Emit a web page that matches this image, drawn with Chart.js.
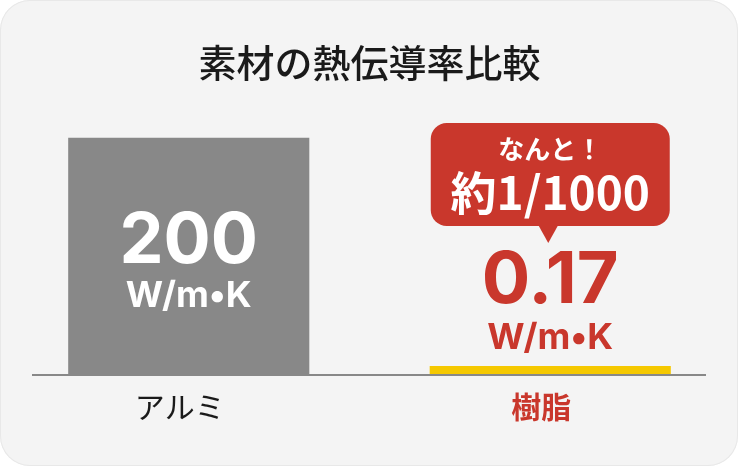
<!DOCTYPE html>
<html lang="ja">
<head>
<meta charset="utf-8">
<script src="https://cdn.jsdelivr.net/npm/chart.js@4.4.1/dist/chart.umd.min.js"></script>
<style>
  html, body { margin: 0; padding: 0; background: #fff; }
  #wrap { position: relative; width: 738px; height: 466px; background: #f4f4f4; border-radius: 30px; box-shadow: inset 0 0 0 1px #e8e8e8; overflow: hidden; }
  #chart { position: absolute; left: 0; top: 0; }
</style>
</head>
<body>
<div id="wrap"><canvas id="chart" width="738" height="466"></canvas></div>
<script>
const categories = ['アルミ', '樹脂'];
const conductivity = [200, 0.17];
const valueLabels = ['200', '0.17'];
const unitLabel = 'W/m•K';
const calloutLines = ['なんと！', '約1/1000'];
const barColors = ['#888888', '#f5c800'];
const labelColors = ['#1a1a1a', '#c9372c'];

const RED = '#c9372c';
const JP = '"Noto Sans CJK JP", sans-serif';
const NUM = 'Inter, "Noto Sans", sans-serif';

// baseline, value labels and the callout bubble
const annotate = {
  id: 'annotate',
  beforeDatasetsDraw(chart) {
    const { ctx, chartArea } = chart;
    ctx.save();
    ctx.strokeStyle = '#888';
    ctx.lineWidth = 2;
    ctx.beginPath();
    ctx.moveTo(32, chartArea.bottom + 1);
    ctx.lineTo(706, chartArea.bottom + 1);
    ctx.stroke();
    ctx.restore();
  },
  afterDatasetsDraw(chart) {
    const { ctx } = chart;
    const bars = chart.getDatasetMeta(0).data;
    ctx.save();
    ctx.textAlign = 'center';
    ctx.textBaseline = 'middle';

    // aluminium: value inside the bar
    const a = bars[0];
    ctx.fillStyle = '#fff';
    ctx.font = `bold 70px ${NUM}`;
    ctx.fillText(valueLabels[0], a.x, a.y + 104);
    ctx.font = `bold 36px ${NUM}`;
    ctx.fillText(unitLabel, a.x, a.y + 159);

    // resin: value above the bar
    const r = bars[1];
    ctx.fillStyle = RED;
    ctx.font = `bold 72px ${NUM}`;
    ctx.fillText(valueLabels[1], r.x, r.y - 85);
    ctx.font = `bold 36px ${NUM}`;
    ctx.fillText(unitLabel, r.x, r.y - 28);

    // callout bubble
    const tipY = r.y - 123;
    const boxB = tipY - 17;
    const boxT = boxB - 103;
    const w = 239;
    ctx.beginPath();
    ctx.roundRect(r.x - w / 2, boxT, w, boxB - boxT, 16);
    ctx.fill();
    ctx.beginPath();
    ctx.moveTo(r.x - 12, boxB - 1);
    ctx.lineTo(r.x + 8, boxB - 1);
    ctx.lineTo(r.x - 2, tipY);
    ctx.closePath();
    ctx.fill();

    ctx.fillStyle = '#fff';
    ctx.font = `bold 26px ${JP}`;
    ctx.fillText(calloutLines[0], r.x, boxT + 26);
    ctx.font = `bold 46px ${JP}`;
    ctx.fillText(calloutLines[1], r.x, boxT + 70);
    ctx.restore();
  }
};

new Chart(document.getElementById('chart'), {
  type: 'bar',
  data: {
    labels: categories,
    datasets: [{
      data: conductivity,
      backgroundColor: barColors,
      borderWidth: 0,
      minBarLength: 8,
      categoryPercentage: 1,
      barPercentage: 0.667
    }]
  },
  options: {
    responsive: false,
    animation: false,
    layout: { padding: { left: 8, right: 7, top: 0, bottom: 26 } },
    plugins: {
      legend: { display: false },
      tooltip: { enabled: false },
      title: {
        display: true,
        text: '素材の熱伝導率比較',
        color: '#1a1a1a',
        font: { family: JP, size: 38, weight: '500', lineHeight: 1.2 },
        padding: { top: 40, bottom: 52 }
      }
    },
    scales: {
      x: {
        grid: { display: false, drawTicks: false },
        border: { display: false },
        ticks: {
          padding: 15,
          labelOffset: -9,
          color: (c) => labelColors[c.index],
          font: (c) => ({ family: JP, size: 30, weight: c.index === 1 ? 'bold' : 'normal', lineHeight: 1.2 })
        }
      },
      y: { display: false, min: 0, max: 200 }
    }
  },
  plugins: [annotate]
});
</script>
</body>
</html>
